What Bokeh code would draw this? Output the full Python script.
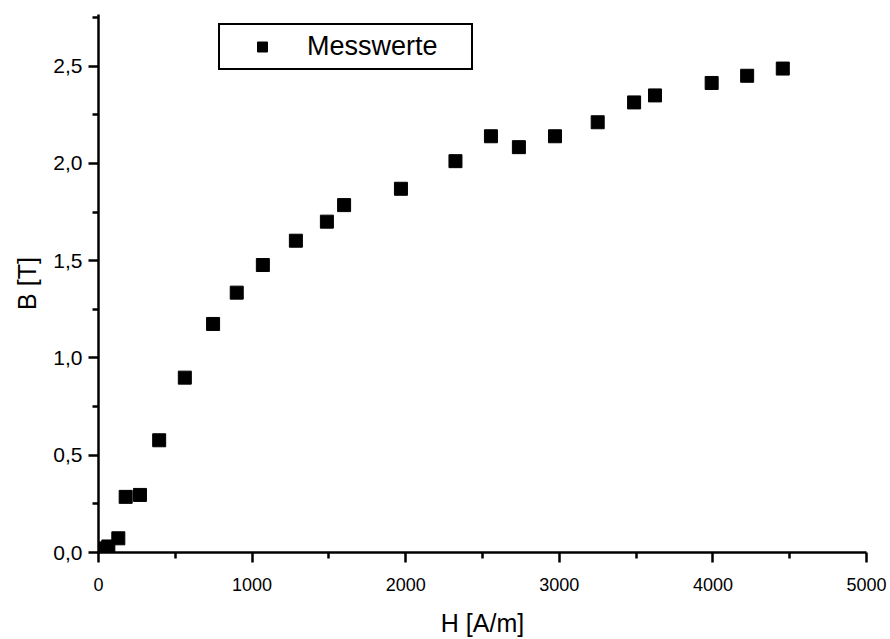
from bokeh.plotting import figure
from bokeh.models import (Range1d, CustomJSTickFormatter, FixedTicker, Legend, LegendItem)
from bokeh.embed import file_html
from bokeh.resources import INLINE

H_values = [21, 64, 129, 177, 270, 395, 562, 746, 900, 1070, 1285, 1487, 1599,
            1969, 2324, 2555, 2737, 2972, 3250, 3487, 3623, 3992, 4223, 4455]
B_values = [0.021, 0.031, 0.073, 0.286, 0.296, 0.577, 0.899, 1.175, 1.336, 1.478,
            1.603, 1.701, 1.786, 1.870, 2.012, 2.140, 2.084, 2.140, 2.212, 2.314,
            2.350, 2.414, 2.451, 2.488]
x_ticks = [0, 1000, 2000, 3000, 4000, 5000]
y_ticks = [0.0, 0.5, 1.0, 1.5, 2.0, 2.5]
series_name = "Messwerte"
x_label = "H [A/m]"
y_label = "B [T]"

FONT = "Liberation Sans"

p = figure(width=890, height=639, output_backend="svg", toolbar_location=None,
           x_range=Range1d(0, 5000), y_range=Range1d(0, 2.766),
           min_border_left=98, min_border_right=24, min_border_top=14, min_border_bottom=86)
p.outline_line_color = None
p.grid.visible = False
p.background_fill_color = "white"
p.border_fill_color = "white"

r = p.scatter(H_values, B_values, marker="square", size=13, color="black")

for ax in (p.xaxis[0], p.yaxis[0]):
    ax.axis_line_width = 2.5
    ax.major_tick_line_width = 2.5
    ax.minor_tick_line_width = 2.5
    ax.major_tick_out = 10
    ax.major_tick_in = 0
    ax.minor_tick_out = 6
    ax.minor_tick_in = 0
    ax.major_label_text_font = FONT
    ax.major_label_text_color = "black"
    ax.axis_label_text_font = FONT
    ax.axis_label_text_font_size = "25px"
    ax.axis_label_text_font_style = "normal"
    ax.axis_label_text_color = "black"

p.xaxis.major_label_text_font_size = "18px"
p.yaxis.major_label_text_font_size = "21px"
p.xaxis.ticker = FixedTicker(ticks=x_ticks, minor_ticks=[500, 1500, 2500, 3500, 4500])
p.yaxis.ticker = FixedTicker(ticks=y_ticks, minor_ticks=[0.25, 0.75, 1.25, 1.75, 2.25, 2.75])
p.xaxis.formatter = CustomJSTickFormatter(code="return tick.toFixed(0);")
p.yaxis.formatter = CustomJSTickFormatter(code="return tick.toFixed(1).replace('.', ',');")
p.xaxis.axis_label = x_label
p.yaxis.axis_label = y_label
p.xaxis.major_label_standoff = 15
p.yaxis.major_label_standoff = 6
p.xaxis.axis_label_standoff = 15
p.yaxis.axis_label_standoff = 9

legend = Legend(items=[LegendItem(label=series_name, renderers=[r])],
                location=(120, 482), padding=6, margin=0,
                glyph_width=72, glyph_height=25, label_standoff=9, label_width=158,
                border_line_color="black", border_line_width=2, border_line_alpha=1,
                label_text_font=FONT, label_text_font_size="27px",
                label_text_color="black",
                background_fill_alpha=1)
p.add_layout(legend)

open("out.html", "w").write(file_html(p, INLINE))
